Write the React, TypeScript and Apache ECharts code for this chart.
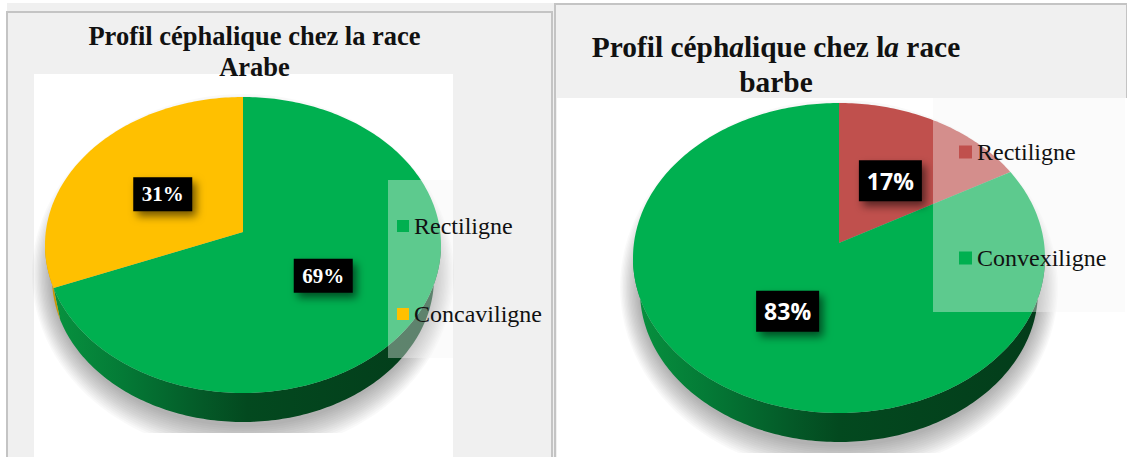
import React, { useEffect, useRef } from "react";
import * as echarts from "echarts";

const categoriesArabe = ["Rectiligne", "Concaviligne"];
const valuesArabe = [69, 31];
const colorsArabe = ["#00B050", "#FFC000"];
const sidesArabe = ["green", "orange"];

const categoriesBarbe = ["Rectiligne", "Convexiligne"];
const valuesBarbe = [17, 83];
const colorsBarbe = ["#C0504D", "#00B050"];
const sidesBarbe = ["red", "green"];

const SERIF = "'Liberation Serif','Times New Roman',serif";
const SANS = "'Open Sans',sans-serif";

const sideFill: Record<string, any> = {
  green: {
    type: "linear", x: 0, y: 0, x2: 1, y2: 0,
    colorStops: [
      { offset: 0, color: "#07923f" },
      { offset: 0.18, color: "#047a36" },
      { offset: 0.38, color: "#045a28" },
      { offset: 0.5, color: "#03491f" },
      { offset: 1, color: "#033c1a" },
    ],
  },
  orange: "#C99700",
  red: "#8a3230",
};

type Geo = { cx: number; cy: number; rx: number; ry: number; apexY: number; depth: number; rxB: number; ryB: number; labelFont: string; labelSize: number; labelW: number; labelH: number; };

const geoA: Geo = { cx: 243, cy: 245, rx: 198, ry: 148, apexY: 232, depth: 33, rxB: 191, ryB: 144, labelFont: SERIF, labelSize: 21, labelW: 59, labelH: 34 };
const geoB: Geo = { cx: 839, cy: 258, rx: 206, ry: 155, apexY: 243, depth: 33, rxB: 199, ryB: 151, labelFont: SANS, labelSize: 23, labelW: 63, labelH: 41 };

function ray(g: Geo, deg: number) {
  const th = (deg * Math.PI) / 180;
  const ay = (g.apexY - g.cy) / g.ry;
  const dx = Math.sin(th);
  const dy = -Math.cos(th);
  const b = ay * dy;
  const t = -b + Math.sqrt(b * b + 1 - ay * ay);
  return [dx * t, ay + dy * t];
}

function softShadow(g: Geo) {
  const layers: any[] = [];
  for (let k = 0; k < 14; k++) {
    const grow = 20 - k * 1.4;
    const pts: number[][] = [];
    for (let a = 0; a < 360; a += 3) {
      const t = (a * Math.PI) / 180;
      pts.push([g.cx + Math.sin(t) * (g.rxB + grow), g.cy + g.depth - 4 - Math.cos(t) * (g.ryB + 6 + grow * 1.5)]);
    }
    layers.push({ type: "polygon", z2: 0, shape: { points: pts }, style: { fill: "rgba(0,0,0,0.022)" } });
  }
  return layers;
}

function sliceSeries(name: string, values: number[], idx: number, color: string, side: string, g: Geo) {
  const total = values.reduce((a, b) => a + b, 0);
  const before = values.slice(0, idx).reduce((a, b) => a + b, 0);
  return {
    type: "custom",
    name,
    coordinateSystem: "none",
    silent: true,
    data: [[values[idx]]],
    renderItem: (_p: any, api: any) => {
      const v = api.value(0);
      const a0 = (before / total) * 360;
      const a1 = a0 + (v / total) * 360;
      const top: number[][] = [[g.cx, g.apexY]];
      const sTop: number[][] = [];
      const sBot: number[][] = [];
      for (let a = a0; ; a += 1) {
        const d = Math.min(a, a1);
        const [ux, uy] = ray(g, d);
        top.push([g.cx + ux * g.rx, g.cy + uy * g.ry]);
        if (uy >= 0) {
          sTop.push([g.cx + ux * g.rx, g.cy + uy * g.ry]);
          sBot.push([g.cx + ux * g.rxB, g.cy + g.depth + uy * g.ryB]);
        }
        if (a >= a1) break;
      }
      const mid = (((a0 + a1) / 2) * Math.PI) / 180;
      const lx = g.cx + Math.sin(mid) * 0.49 * g.rx;
      const ly = g.apexY + 3 - Math.cos(mid) * 0.49 * g.ry;
      const children: any[] = idx === 0 ? softShadow(g) : [];
      if (sTop.length > 1) {
        children.push({
          type: "polygon",
          z2: 1,
          shape: { points: sTop.concat(sBot.slice().reverse()) },
          style: { fill: sideFill[side] },
        });
      }
      children.push({ type: "polygon", z2: 2, shape: { points: top }, style: { fill: color } });
      children.push({
        type: "rect",
        z2: 10,
        shape: { x: lx - g.labelW / 2, y: ly - g.labelH / 2, width: g.labelW, height: g.labelH },
        style: { fill: "#000", shadowBlur: 9, shadowOffsetX: 4, shadowOffsetY: 5, shadowColor: "rgba(0,0,0,0.55)" },
      });
      children.push({
        type: "text",
        z2: 11,
        style: {
          x: lx,
          y: ly,
          text: `${v}%`,
          fill: "#fff",
          align: "center",
          verticalAlign: "middle",
          font: `bold ${g.labelSize}px ${g.labelFont}`,
        },
      });
      return { type: "group", children };
    },
  };
}

const rect = (x: number, y: number, width: number, height: number, fill: string, z: number, stroke?: string) => ({
  type: "rect",
  z,
  silent: true,
  shape: { x, y, width, height },
  style: stroke ? { fill, stroke, lineWidth: 2 } : { fill },
});

export default function App() {
  const ref = useRef<HTMLDivElement>(null);
  useEffect(() => {
    const chart = echarts.init(ref.current!, undefined, { renderer: "svg" });
    chart.setOption({
      animation: false,
      backgroundColor: "#ffffff",
      title: [
        {
          text: "Profil céphalique chez la race\nArabe",
          left: 254.5,
          top: 20,
          textAlign: "center",
          textStyle: { fontFamily: SERIF, fontSize: 26.5, fontWeight: "bold", color: "#111", lineHeight: 31 },
          padding: 0,
          z: 10,
        },
        {
          text: "Profil céph{i|a}lique chez l{i|a} race\n{b|barbe}",
          left: 776,
          top: 29,
          textAlign: "center",
          textStyle: {
            fontFamily: SERIF, fontSize: 29.4, fontWeight: "bold", color: "#111", lineHeight: 35,
            rich: {
              i: { fontFamily: SERIF, fontSize: 29.4, fontWeight: "bold", fontStyle: "italic", color: "#111", lineHeight: 35 },
              b: { fontFamily: SERIF, fontSize: 29.4, fontWeight: "bold", color: "#111", lineHeight: 35 },
            },
          },
          padding: 0,
          z: 10,
        },
      ],
      legend: [
        {
          orient: "vertical",
          left: 397,
          top: 214,
          padding: 0,
          itemGap: 64,
          itemWidth: 12,
          itemHeight: 12,
          icon: "rect",
          selectedMode: false,
          z: 10,
          textStyle: { fontFamily: SERIF, fontSize: 24, color: "#111" },
          data: categoriesArabe.map((name, i) => ({ name, itemStyle: { color: colorsArabe[i] } })),
        },
        {
          orient: "vertical",
          left: 959,
          top: 140,
          padding: 0,
          itemGap: 82,
          itemWidth: 13,
          itemHeight: 13,
          icon: "rect",
          selectedMode: false,
          z: 10,
          textStyle: { fontFamily: SERIF, fontSize: 24, color: "#111" },
          data: categoriesBarbe.map((name, i) => ({ name, itemStyle: { color: colorsBarbe[i] } })),
        },
      ],
      graphic: {
        elements: [
          rect(7, 3, 1120, 454, "#f0f0f0", 0),
          rect(7, 12, 545, 460, "#f0f0f0", 0, "#c4c4c4"),
          rect(34, 74, 419, 383, "#ffffff", 0),
          rect(555, 4, 572, 460, "#f0f0f0", 0, "#c4c4c4"),
          rect(557, 98, 570, 359, "#ffffff", 0),
          rect(34, 433, 419, 24, "#ffffff", 3),
          rect(557, 453, 570, 4, "#ffffff", 3),
          rect(388, 180, 65, 178, "rgba(245,245,245,0.38)", 5),
          rect(933, 98, 192, 214, "rgba(245,245,245,0.38)", 5),
        ],
      },
      series: [
        sliceSeries(categoriesArabe[0], valuesArabe, 0, colorsArabe[0], sidesArabe[0], geoA),
        sliceSeries(categoriesArabe[1], valuesArabe, 1, colorsArabe[1], sidesArabe[1], geoA),
        sliceSeries(categoriesBarbe[0], valuesBarbe, 0, colorsBarbe[0], sidesBarbe[0], geoB),
        sliceSeries(categoriesBarbe[1], valuesBarbe, 1, colorsBarbe[1], sidesBarbe[1], geoB),
      ],
    });
    return () => chart.dispose();
  }, []);
  return <div ref={ref} style={{ position: "absolute", left: 0, top: 0, width: 1127, height: 457 }} />;
}
